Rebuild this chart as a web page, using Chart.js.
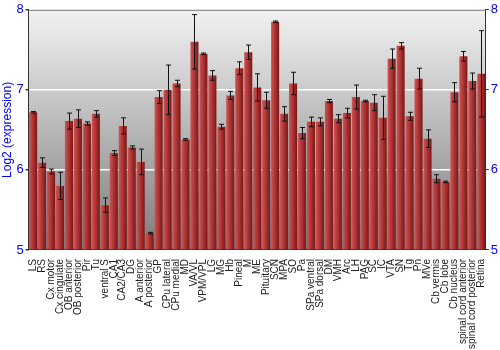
<!DOCTYPE html>
<html>
<head>
<meta charset="utf-8">
<script src="https://cdn.jsdelivr.net/npm/chart.js@4"></script>
<style>
  html, body { margin: 0; padding: 0; background: #fff; }
  #wrap { width: 500px; height: 350px; }
</style>
</head>
<body>
<div id="wrap"><canvas id="exprChart"></canvas></div>
<script>
const regions = ['LS', 'RS', 'Cx motor', 'Cx cingulate', 'OB anterior', 'OB posterior', 'Pir', 'Tu',
    'ventral S', 'CA1', 'CA2/CA3', 'DG', 'A anterior', 'A posterior', 'GP', 'CPu lateral', 'CPu medial',
    'MD', 'VA/VL', 'VPM/VPL', 'LG', 'MG', 'Hb', 'Pineal', 'M', 'ME', 'Pituitary', 'SCN', 'MPA', 'SO', 'Pa',
    'SPa ventral', 'SPa dorsal', 'DM', 'VMH', 'Arc', 'LH', 'PAG', 'SC', 'IC', 'VTA', 'SN', 'Tg', 'Pn', 'MVe',
    'Cb vermis', 'Cb lobe', 'Cb nucleus', 'spinal cord anterior', 'spinal cord posterior', 'Retina'];

const expression = [6.72, 6.09, 5.98, 5.80, 6.61, 6.64, 6.58, 6.70,
    5.56, 6.21, 6.55, 6.28, 6.10, 5.21, 6.91, 7.00, 7.08,
    6.38, 7.60, 7.45, 7.18, 6.54, 6.93, 7.27, 7.47, 7.03, 6.87, 7.85, 6.70, 7.08, 6.46,
    6.60, 6.60, 6.86, 6.64, 6.71, 6.91, 6.86, 6.84, 6.65, 7.39, 7.55, 6.67, 7.14, 6.39,
    5.89, 5.85, 6.97, 7.42, 7.11, 7.20];

const errors = [0.01, 0.06, 0.03, 0.17, 0.10, 0.11, 0.02, 0.04,
    0.09, 0.03, 0.10, 0.02, 0.16, 0.01, 0.08, 0.31, 0.04,
    0.01, 0.34, 0.01, 0.06, 0.03, 0.05, 0.08, 0.09, 0.17, 0.10, 0.01, 0.09, 0.14, 0.07,
    0.06, 0.05, 0.02, 0.05, 0.06, 0.15, 0.01, 0.10, 0.27, 0.12, 0.04, 0.05, 0.13, 0.11,
    0.05, 0.01, 0.12, 0.06, 0.10, 0.54];

const yTicks = [5, 6, 7, 8];

// plot area background (grey gradient) and top border
const backgroundPlugin = {
    id: 'plotBackground',
    beforeDraw(chart) {
        const { ctx, chartArea } = chart;
        if (!chartArea) return;
        const g = ctx.createLinearGradient(0, chartArea.top, 0, chartArea.bottom);
        g.addColorStop(0, '#f2f2f2');
        g.addColorStop(1, '#7c7c7c');
        ctx.save();
        ctx.fillStyle = g;
        ctx.fillRect(chartArea.left, chartArea.top, chartArea.right - chartArea.left, chartArea.bottom - chartArea.top);
        ctx.restore();
    },
    afterDraw(chart) {
        const { ctx, chartArea } = chart;
        ctx.save();
        ctx.strokeStyle = '#7a7a7a';
        ctx.lineWidth = 1;
        ctx.beginPath();
        ctx.moveTo(chartArea.left, chartArea.top + 0.5);
        ctx.lineTo(chartArea.right, chartArea.top + 0.5);
        ctx.stroke();
        ctx.restore();
    }
};

// error bars drawn from the errors array through the y scale
const errorBarPlugin = {
    id: 'errorBars',
    afterDatasetsDraw(chart) {
        const { ctx } = chart;
        const xScale = chart.scales.x;
        const yScale = chart.scales.y;
        ctx.save();
        ctx.strokeStyle = '#111';
        ctx.lineWidth = 1;
        expression.forEach((v, i) => {
            const x = Math.round(xScale.getPixelForValue(i)) + 0.5;
            const yHi = yScale.getPixelForValue(v + errors[i]);
            const yLo = yScale.getPixelForValue(v - errors[i]);
            ctx.beginPath();
            ctx.moveTo(x, yHi);
            ctx.lineTo(x, yLo);
            ctx.moveTo(x - 2.5, yHi);
            ctx.lineTo(x + 2.5, yHi);
            ctx.moveTo(x - 2.5, yLo);
            ctx.lineTo(x + 2.5, yLo);
            ctx.stroke();
        });
        ctx.restore();
    }
};

function barFill(context) {
    const chart = context.chart;
    if (!chart.chartArea) return '#a83232';
    const xScale = chart.scales.x;
    const x = xScale.getPixelForValue(context.dataIndex);
    const half = (chart.chartArea.right - chart.chartArea.left) / regions.length * 0.45;
    const g = chart.ctx.createLinearGradient(x - half, 0, x + half, 0);
    g.addColorStop(0, '#cc5555');
    g.addColorStop(0.35, '#b83c3c');
    g.addColorStop(1, '#7a1616');
    return g;
}

document.addEventListener('DOMContentLoaded', function () {
    const ctx = document.getElementById('exprChart').getContext('2d');
    new Chart(ctx, {
        type: 'bar',
        data: {
            labels: regions,
            datasets: [{
                label: 'Log2 (expression)',
                data: expression,
                backgroundColor: barFill,
                borderWidth: 0,
                barPercentage: 0.9,
                categoryPercentage: 1.0,
                base: 5
            }]
        },
        options: {
            responsive: true,
            maintainAspectRatio: false,
            animation: false,
            layout: { padding: { top: 2, right: 0, left: 0, bottom: 0 } },
            plugins: {
                legend: { display: false },
                tooltip: { enabled: false }
            },
            scales: {
                x: {
                    grid: { display: false },
                    border: { display: true, color: '#333' },
                    ticks: {
                        autoSkip: false,
                        maxRotation: 90,
                        minRotation: 90,
                        padding: 1,
                        color: '#222',
                        font: { family: 'Liberation Sans, Arial', size: 10 }
                    }
                },
                y: {
                    min: 5,
                    max: 8,
                    afterBuildTicks: axis => { axis.ticks = yTicks.map(v => ({ value: v })); },
                    grid: {
                        color: c => (c.tick && (c.tick.value === 6 || c.tick.value === 7)) ? '#ffffff' : 'rgba(0,0,0,0)',
                        lineWidth: 1.5,
                        tickColor: '#333',
                        tickLength: 3
                    },
                    border: { display: true, color: '#333' },
                    ticks: {
                        color: '#0000ff',
                        padding: 2,
                        font: { family: 'Liberation Sans, Arial', size: 13 }
                    },
                    title: {
                        display: true,
                        text: 'Log2 (expression)',
                        color: '#0000ff',
                        padding: 0,
                        font: { family: 'Liberation Sans, Arial', size: 12 }
                    }
                },
                y2: {
                    position: 'right',
                    min: 5,
                    max: 8,
                    afterBuildTicks: axis => { axis.ticks = yTicks.map(v => ({ value: v })); },
                    grid: { drawOnChartArea: false, tickColor: '#333', tickLength: 3 },
                    border: { display: true, color: '#333' },
                    ticks: {
                        color: '#0000ff',
                        padding: 2,
                        font: { family: 'Liberation Sans, Arial', size: 13 }
                    }
                }
            }
        },
        plugins: [backgroundPlugin, errorBarPlugin]
    });
});
</script>
</body>
</html>
